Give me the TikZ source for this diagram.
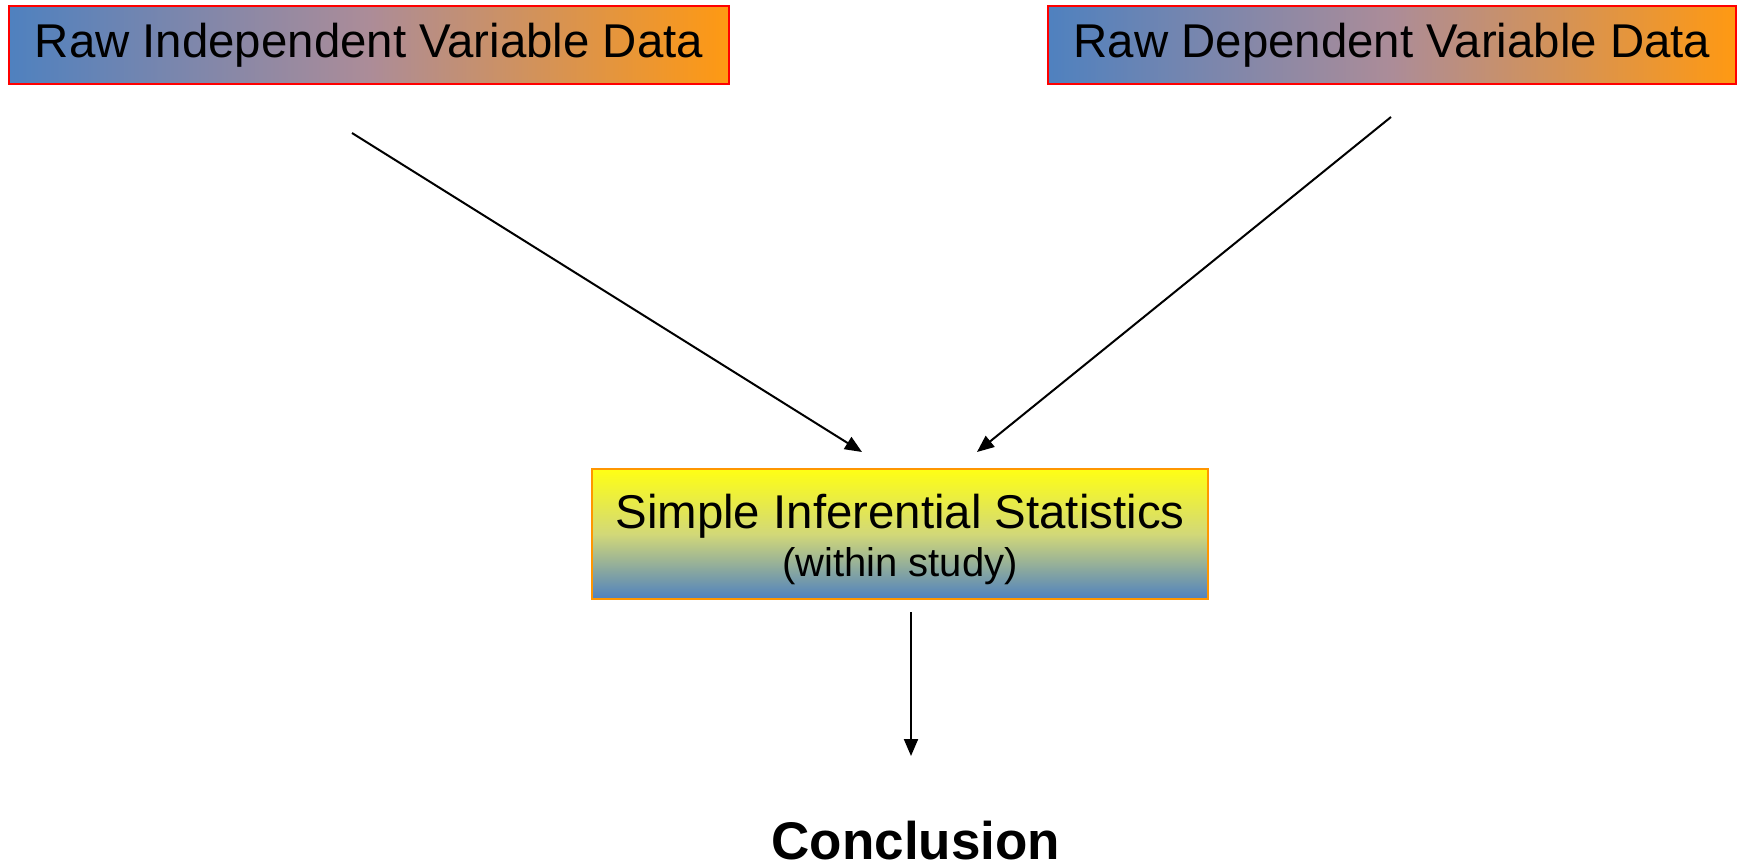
\documentclass[tikz,border=0pt]{standalone}
\usepackage{fontspec}
\setmainfont{Liberation Sans}
\usetikzlibrary{arrows.meta}
\definecolor{pblue}{RGB}{79,129,191}
\definecolor{porange}{RGB}{255,153,18}
\definecolor{pmauve}{RGB}{172,140,152}
\definecolor{pyellow}{RGB}{255,255,20}
\definecolor{pmidy}{RGB}{210,216,120}
\definecolor{pborder}{RGB}{255,150,0}
\tikzset{
  rawbox/.style={draw=red, line width=1pt, left color=pblue, right color=porange, middle color=pmauve,
    minimum height=39pt, inner sep=0pt, font=\fontsize{23.7}{28}\selectfont},
  statbox/.style={draw=pborder, line width=1pt, top color=pyellow, bottom color=pblue, middle color=pmidy,
    minimum width=308pt, minimum height=65pt, inner sep=0pt, align=center},
  conn/.style={line width=1pt, -{Triangle[length=8.5pt,width=7pt]}},
}
\begin{document}
\begin{tikzpicture}[x=0.5pt,y=-0.5pt]
\useasboundingbox (0,0) rectangle (1742,867);
\node[rawbox, minimum width=360pt] (ind) at (369,45) {Raw Independent Variable Data};
\node[rawbox, minimum width=344pt] (dep) at (1392,45) {Raw Dependent Variable Data};
\node[statbox] (stat) at (900,534) {\fontsize{23.7}{24}\selectfont\rule{0pt}{23pt}Simple Inferential Statistics\\[3.5pt]\fontsize{20}{24}\selectfont (within study)};
\node[anchor=base, font=\bfseries\fontsize{26.5}{30}\selectfont, inner sep=0pt] (conc) at (916,859) {Conclusion};
\coordinate (indout) at (352,133);
\coordinate (depout) at (1391,117);
\coordinate (statinL) at (862,452);
\coordinate (statinR) at (977,452);
\coordinate (statout) at (911,612);
\coordinate (concin) at (911,756);
\draw[conn] (indout) -- (statinL);
\draw[conn] (depout) -- (statinR);
\draw[conn] (statout) -- (concin);
\end{tikzpicture}
\end{document}
